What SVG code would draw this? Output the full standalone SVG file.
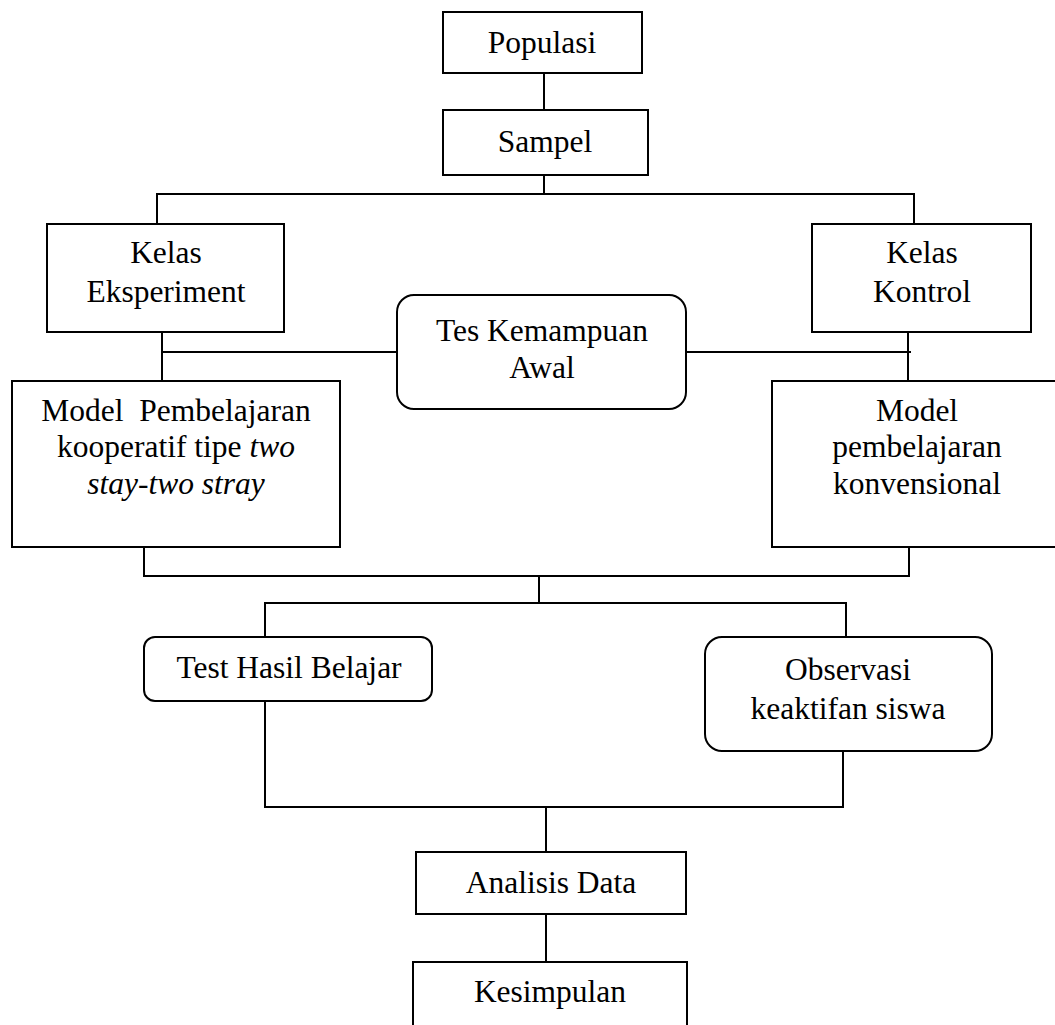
<svg xmlns="http://www.w3.org/2000/svg" width="1055" height="1025" viewBox="0 0 1055 1025">
<style>
.box{fill:#fff;stroke:#000;stroke-width:2}
.ln{fill:none;stroke:#000;stroke-width:2}
text{font-family:"Liberation Serif","Times New Roman",serif;font-size:31.5px;fill:#000;text-anchor:middle}
.it{font-style:italic}
</style>
<rect width="1055" height="1025" fill="#fff"/>
<g id="connectors">
<path class="ln" d="M544 73V110"/>
<path class="ln" d="M544 175V194"/>
<path class="ln" d="M157 223V194H914V223"/>
<path class="ln" d="M162 332V380"/>
<path class="ln" d="M908 332V380"/>
<path class="ln" d="M162 352H397"/>
<path class="ln" d="M686 352H911"/>
<path class="ln" d="M144 547V576H909V547"/>
<path class="ln" d="M539 576V603"/>
<path class="ln" d="M265 637V603H846V637"/>
<path class="ln" d="M265 701V807H843V751"/>
<path class="ln" d="M546 807V852"/>
<path class="ln" d="M546 914V962"/>
</g>
<g id="populasi"><rect class="box" x="443" y="12" width="199" height="61"/><text x="542" y="53">Populasi</text></g>
<g id="sampel"><rect class="box" x="443" y="110" width="205" height="65"/><text x="545" y="152">Sampel</text></g>
<g id="kelas-eksperiment"><rect class="box" x="47" y="224" width="237" height="108"/><text x="166" y="263">Kelas</text><text x="166" y="302">Eksperiment</text></g>
<g id="kelas-kontrol"><rect class="box" x="812" y="224" width="219" height="108"/><text x="922" y="263">Kelas</text><text x="922" y="302">Kontrol</text></g>
<g id="tes-kemampuan-awal"><rect class="box" x="397" y="295" width="289" height="114" rx="17"/><text x="542" y="341">Tes Kemampuan</text><text x="542" y="378">Awal</text></g>
<g id="model-kooperatif"><rect class="box" x="12" y="381" width="328" height="166"/><text x="176" y="421" style="white-space:pre">Model  Pembelajaran</text><text x="176" y="457">kooperatif tipe <tspan class="it">two</tspan></text><text x="176" y="494" class="it">stay-two stray</text></g>
<g id="model-konvensional"><rect class="box" x="772" y="381" width="290" height="166"/><text x="917" y="421">Model</text><text x="917" y="457">pembelajaran</text><text x="917" y="494">konvensional</text></g>
<g id="test-hasil-belajar"><rect class="box" x="144" y="637" width="288" height="64" rx="11"/><text x="289" y="678">Test Hasil Belajar</text></g>
<g id="observasi"><rect class="box" x="705" y="637" width="287" height="114" rx="17"/><text x="848" y="680">Observasi</text><text x="848" y="719">keaktifan siswa</text></g>
<g id="analisis-data"><rect class="box" x="416" y="852" width="270" height="62"/><text x="551" y="893">Analisis Data</text></g>
<g id="kesimpulan"><rect class="box" x="413" y="962" width="274" height="80"/><text x="550" y="1002">Kesimpulan</text></g>
</svg>
